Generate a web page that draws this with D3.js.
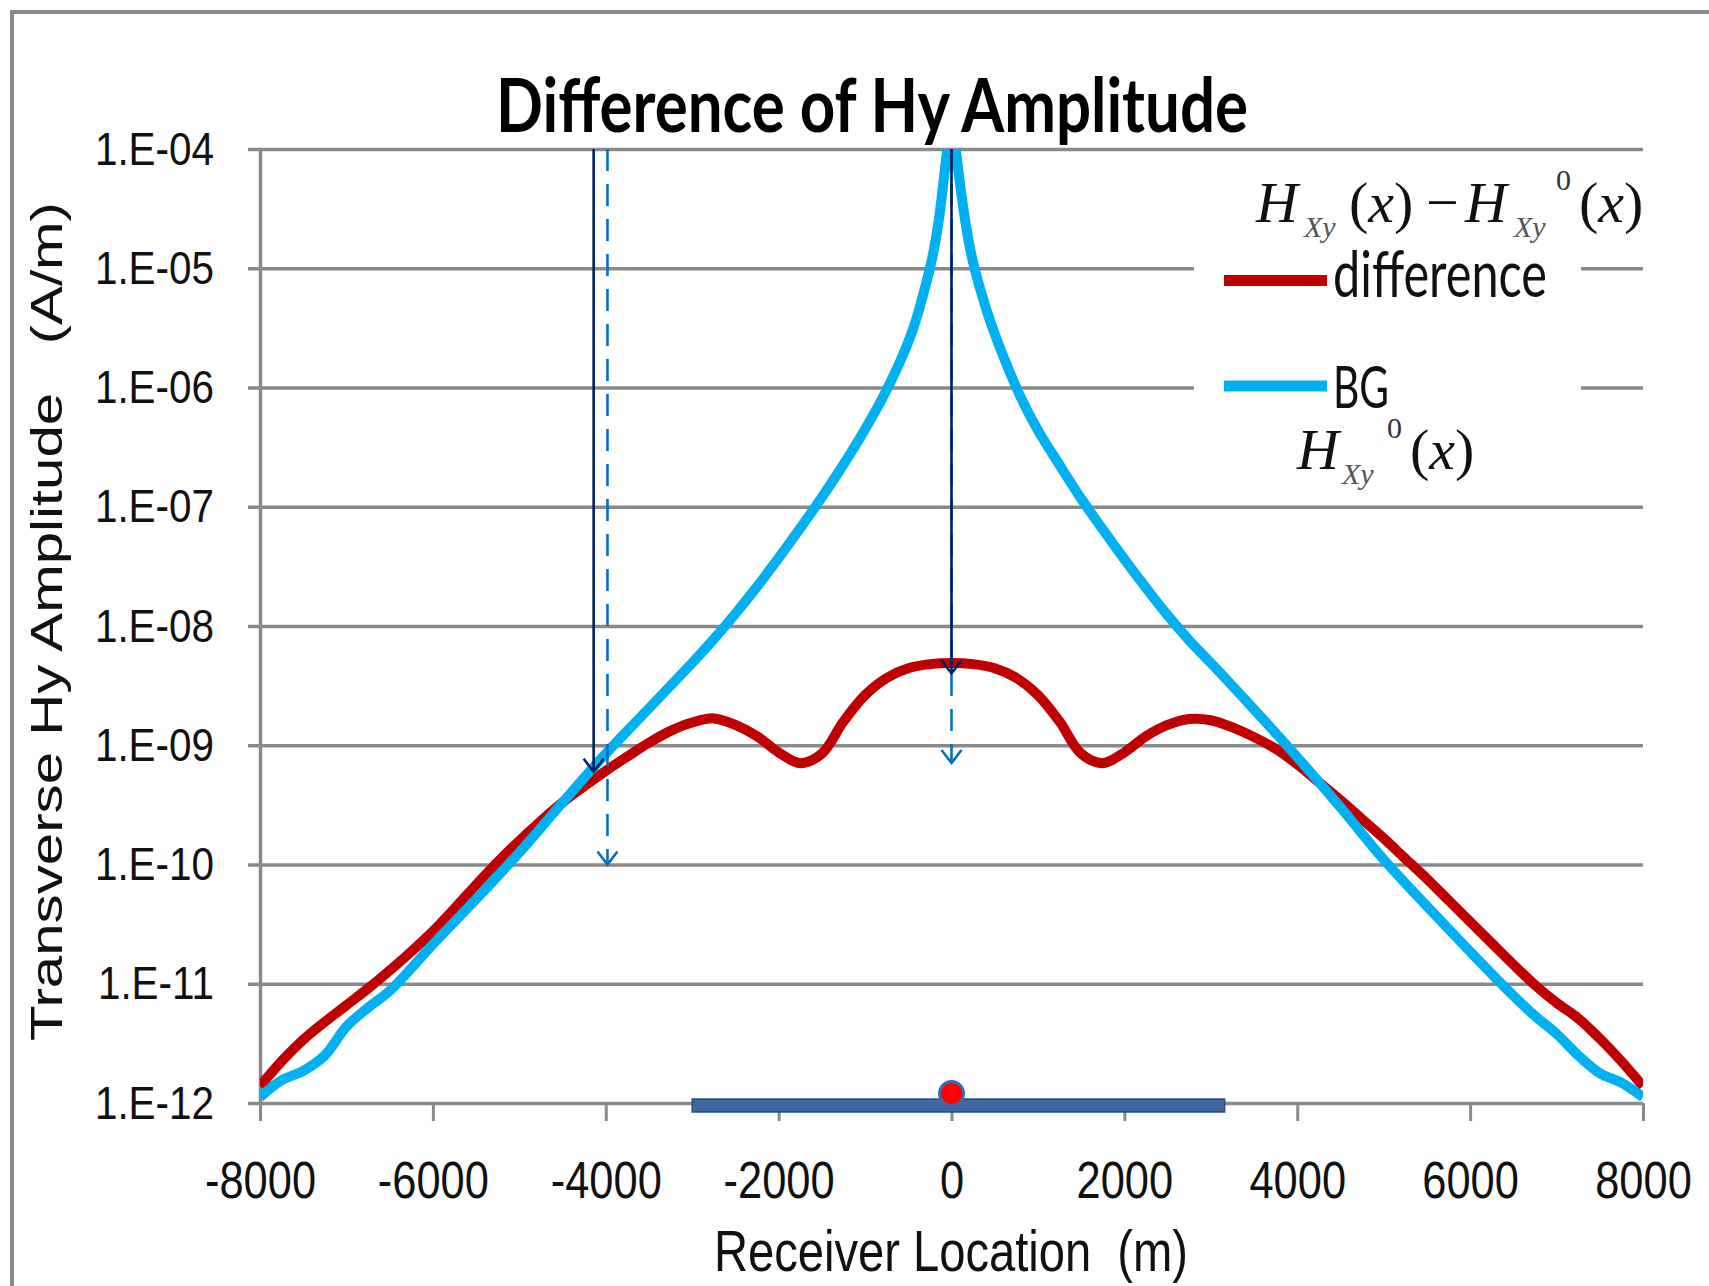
<!DOCTYPE html>
<html>
<head>
<meta charset="utf-8">
<script src="https://cdn.jsdelivr.net/npm/d3@7"></script>
<style>
  html, body { margin: 0; padding: 0; background: #ffffff; }
  svg { display: block; }
  text { white-space: pre; }
</style>
</head>
<body>
<svg id="chart" width="1709" height="1286"></svg>
<script>
// Background field H_xy^0(x): receiver position (m) and amplitude (A/m)
const bgX = [-8000, -7750, -7500, -7250, -7000, -6750, -6500, -6000, -5500, -5000, -4500, -4000,
  -3500, -3000, -2750, -2500, -2250, -2000, -1750, -1500, -1250, -1000, -800, -600, -450, -350,
  -250, -200, -150, -100, -50, 0,
  50, 100, 150, 200, 250, 350, 450, 600, 800, 1000, 1250, 1500, 1750, 2000, 2250, 2500, 2750,
  3000, 3500, 4000, 4500, 5000, 5500, 6000, 6500, 6750, 7000, 7250, 7500, 7750, 8000];
const bgAmp = [1.12e-12, 1.55e-12, 1.86e-12, 2.51e-12, 4.37e-12, 6.31e-12, 8.71e-12, 2.14e-11,
  5.13e-11, 1.26e-10, 3.31e-10, 8.51e-10, 2.04e-9, 4.90e-9, 7.76e-9, 1.27e-8, 2.14e-8, 3.72e-8,
  6.61e-8, 1.20e-7, 2.26e-7, 4.47e-7, 8.13e-7, 1.62e-6, 3.02e-6, 5.25e-6, 1.0e-5, 1.48e-5,
  2.45e-5, 4.79e-5, 1.0e-4, 2.51e-4,
  1.0e-4, 5.01e-5, 2.75e-5, 1.66e-5, 1.12e-5, 6.03e-6, 3.55e-6, 1.82e-6, 8.32e-7, 4.37e-7,
  2.24e-7, 1.17e-7, 6.46e-8, 3.63e-8, 2.09e-8, 1.23e-8, 7.59e-9, 4.90e-9, 2.00e-9, 7.94e-10,
  3.02e-10, 1.10e-10, 4.47e-11, 1.86e-11, 7.94e-12, 5.37e-12, 3.80e-12, 2.51e-12, 1.78e-12,
  1.48e-12, 1.12e-12];

// Difference H_xy(x) - H_xy^0(x): receiver position (m, every 250 m) and amplitude (A/m)
const diffX = d3.range(-8000, 8001, 250);
const diffAmp = [1.38e-12, 2.24e-12, 3.39e-12, 4.79e-12, 6.61e-12, 9.12e-12, 1.29e-11, 1.86e-11,
  2.75e-11, 4.27e-11, 6.76e-11, 1.05e-10, 1.58e-10, 2.32e-10, 3.31e-10, 4.52e-10, 6.10e-10,
  8.04e-10, 1.05e-9, 1.32e-9, 1.55e-9, 1.68e-9, 1.48e-9, 1.19e-9, 8.71e-10, 7.08e-10, 8.51e-10,
  1.58e-9, 2.63e-9, 3.67e-9, 4.42e-9, 4.79e-9, 4.90e-9,
  4.79e-9, 4.42e-9, 3.67e-9, 2.63e-9, 1.58e-9, 8.51e-10, 7.08e-10, 8.71e-10, 1.19e-9, 1.48e-9,
  1.66e-9, 1.62e-9, 1.41e-9, 1.17e-9, 9.33e-10, 6.92e-10, 4.90e-10, 3.47e-10, 2.40e-10, 1.66e-10,
  1.12e-10, 7.59e-11, 5.01e-11, 3.31e-11, 2.19e-11, 1.45e-11, 9.77e-12, 6.92e-12, 5.13e-12,
  3.47e-12, 2.24e-12, 1.38e-12];

// Axis ticks
const xTicks = [-8000, -6000, -4000, -2000, 0, 2000, 4000, 6000, 8000];
const xTickLabels = ["-8000", "-6000", "-4000", "-2000", "0", "2000", "4000", "6000", "8000"];
const yTicks = [1e-12, 1e-11, 1e-10, 1e-9, 1e-8, 1e-7, 1e-6, 1e-5, 1e-4];
const yTickLabels = ["1.E-12", "1.E-11", "1.E-10", "1.E-09", "1.E-08", "1.E-07", "1.E-06", "1.E-05", "1.E-04"];

// Conductive body extent (m) and source position
const bodyExtent = [-3000, 3160];
const bodyLevel = 1e-12;
const sourceX = 0;
const sourceAmp = 1.2e-12;

// Vertical reading arrows: position (m), start/end amplitude, dashed?
const arrowX = [-3980, 0, -4140, 0];
const arrowFrom = [1e-4, 1e-4, 1e-4, 1e-4];
const arrowTo = [1.0e-10, 7.1e-10, 6.0e-10, 4.0e-9];
const arrowDashed = [true, true, false, false];

const svg = d3.select("#chart");
const sansAxis = "'Liberation Sans', Arial, sans-serif";
const sansText = "Lato, 'Open Sans', sans-serif";
const serif = "'Liberation Serif', 'Times New Roman', serif";
const gridColor = "#8a8a8a";

const x = d3.scaleLinear().domain([-8000, 8000]).range([260, 1643]);
const y = d3.scaleLog().domain([1e-12, 1e-4]).range([1103, 149]);

function squeeze(sel, f) {
  sel.each(function () {
    const w = this.getComputedTextLength();
    this.setAttribute("textLength", w * f);
    this.setAttribute("lengthAdjust", "spacingAndGlyphs");
  });
}

// Plot-area clip for the curves
svg.append("defs").append("clipPath").attr("id", "plotClip")
  .append("rect")
  .attr("x", x.range()[0]).attr("y", y.range()[1])
  .attr("width", x.range()[1] - x.range()[0])
  .attr("height", y.range()[0] - y.range()[1] + 20);

// Outer frame
svg.append("rect")
  .attr("x", 12).attr("y", 12).attr("width", 1760).attr("height", 1340)
  .attr("fill", "none").attr("stroke", gridColor).attr("stroke-width", 4);

// Y axis with horizontal gridlines
const plotW = x.range()[1] - x.range()[0];
const gy = svg.append("g")
  .attr("transform", `translate(${x.range()[0]},0)`)
  .call(d3.axisLeft(y).tickValues(yTicks)
    .tickFormat((d, i) => yTickLabels[i])
    .tickSizeInner(-plotW).tickSizeOuter(0).tickPadding(46));
gy.selectAll(".tick line").attr("x1", -12).attr("stroke", gridColor).attr("stroke-width", 3.5);
gy.select(".domain").attr("stroke", gridColor).attr("stroke-width", 3.5);
gy.selectAll(".tick text")
  .attr("font-family", sansAxis).attr("font-size", 47).attr("fill", "#111");
squeeze(gy.selectAll(".tick text"), 0.86);

// X axis
const gx = svg.append("g")
  .attr("transform", `translate(0,${y(1e-12)})`)
  .call(d3.axisBottom(x).tickValues(xTicks)
    .tickFormat((d, i) => xTickLabels[i])
    .tickSizeInner(18).tickSizeOuter(0));
gx.select(".domain").remove();
gx.selectAll(".tick line").attr("stroke", gridColor).attr("stroke-width", 3);
gx.selectAll(".tick text")
  .attr("y", 95).attr("dy", null)
  .attr("font-family", sansAxis).attr("font-size", 52).attr("fill", "#111");
squeeze(gx.selectAll(".tick text"), 0.835);

// Legend background
svg.append("rect")
  .attr("x", 1194).attr("y", 160).attr("width", 387).attr("height", 335)
  .attr("fill", "#ffffff");

// Conductive body and source
svg.append("rect")
  .attr("x", x(bodyExtent[0])).attr("width", x(bodyExtent[1]) - x(bodyExtent[0]))
  .attr("y", y(bodyLevel) - 4).attr("height", 13)
  .attr("fill", "#3e68a2").attr("stroke", "#2c4d7e").attr("stroke-width", 1.5);
svg.append("circle")
  .attr("cx", x(sourceX)).attr("cy", y(sourceAmp)).attr("r", 12)
  .attr("fill", "#ff0000").attr("stroke", "#3f6aa6").attr("stroke-width", 3);

// Curves
const line = d3.line().curve(d3.curveCatmullRom.alpha(0.5));
const curves = svg.append("g").attr("clip-path", "url(#plotClip)");
curves.append("path")
  .attr("d", line(diffX.map((v, i) => [x(v), y(diffAmp[i])])))
  .attr("fill", "none").attr("stroke", "#c00000").attr("stroke-width", 10)
  .attr("stroke-linejoin", "round");
curves.append("path")
  .attr("d", line(bgX.map((v, i) => [x(v), y(bgAmp[i])])))
  .attr("fill", "none").attr("stroke", "#00b0f0").attr("stroke-width", 10)
  .attr("stroke-linejoin", "round");

// Arrows
arrowX.forEach((ax, i) => {
  const color = arrowDashed[i] ? "#0070c0" : "#002060";
  const px = x(ax), y0 = y(arrowFrom[i]), y1 = y(arrowTo[i]);
  svg.append("line")
    .attr("x1", px).attr("x2", px).attr("y1", y0).attr("y2", y1 - 2)
    .attr("stroke", color).attr("stroke-width", 2.6)
    .attr("stroke-dasharray", arrowDashed[i] ? "22,13" : null);
  svg.append("path")
    .attr("d", `M${px - 10},${y1 - 13}L${px},${y1}L${px + 10},${y1 - 13}`)
    .attr("fill", "none").attr("stroke", color).attr("stroke-width", 2.6)
    .attr("stroke-linejoin", "miter");
});

// Title
svg.append("text")
  .attr("x", 872).attr("y", 132).attr("text-anchor", "middle")
  .attr("font-family", sansText).attr("font-weight", 700).attr("font-size", 75)
  .attr("textLength", 752).attr("lengthAdjust", "spacingAndGlyphs")
  .attr("fill", "#000").text("Difference of Hy Amplitude");

// Axis titles
svg.append("text")
  .attr("x", 951).attr("y", 1271).attr("text-anchor", "middle")
  .attr("font-family", sansAxis).attr("font-size", 57)
  .attr("textLength", 474).attr("lengthAdjust", "spacingAndGlyphs")
  .attr("fill", "#111").text("Receiver Location  (m)");
svg.append("text")
  .attr("transform", "translate(62,621.5) rotate(-90)").attr("text-anchor", "middle")
  .attr("font-family", sansAxis).attr("font-size", 45)
  .attr("textLength", 839).attr("lengthAdjust", "spacingAndGlyphs")
  .attr("fill", "#111").text("Transverse Hy Amplitude   (A/m)");

// Legend entries
svg.append("line").attr("x1", 1224).attr("x2", 1327).attr("y1", 280.5).attr("y2", 280.5)
  .attr("stroke", "#c00000").attr("stroke-width", 11);
svg.append("line").attr("x1", 1224).attr("x2", 1327).attr("y1", 386).attr("y2", 386)
  .attr("stroke", "#00b0f0").attr("stroke-width", 11);
svg.append("text").attr("x", 1333).attr("y", 297)
  .attr("font-family", sansText).attr("font-size", 63)
  .attr("textLength", 214).attr("lengthAdjust", "spacingAndGlyphs")
  .attr("fill", "#111").text("difference");
svg.append("text").attr("x", 1333).attr("y", 408)
  .attr("font-family", sansText).attr("font-size", 59)
  .attr("textLength", 56).attr("lengthAdjust", "spacingAndGlyphs")
  .attr("fill", "#111").text("BG");

// Legend formulas
function formulaPart(px, py, size, str, italic, fill) {
  svg.append("text").attr("x", px).attr("y", py)
    .attr("font-family", serif).attr("font-size", size)
    .attr("font-style", italic ? "italic" : "normal")
    .attr("fill", fill || "#111").text(str);
}
function argX(px, py) {
  const t = svg.append("text").attr("x", px).attr("y", py)
    .attr("font-family", serif).attr("font-size", 58).attr("fill", "#111");
  t.append("tspan").text("(");
  t.append("tspan").attr("font-style", "italic").text("x");
  t.append("tspan").text(")");
}
formulaPart(1256, 222, 58, "H", true);
formulaPart(1304, 237, 30, "Xy", true, "#555");
argX(1349, 222);
formulaPart(1426, 222, 58, "\u2212", false);
formulaPart(1465, 222, 58, "H", true);
formulaPart(1514, 237, 30, "Xy", true, "#555");
formulaPart(1556, 190, 30, "0", false, "#333");
argX(1579, 222);

formulaPart(1297, 469, 58, "H", true);
formulaPart(1342, 484, 30, "Xy", true, "#555");
formulaPart(1387, 438, 30, "0", false, "#333");
argX(1410, 469);
</script>
</body>
</html>
